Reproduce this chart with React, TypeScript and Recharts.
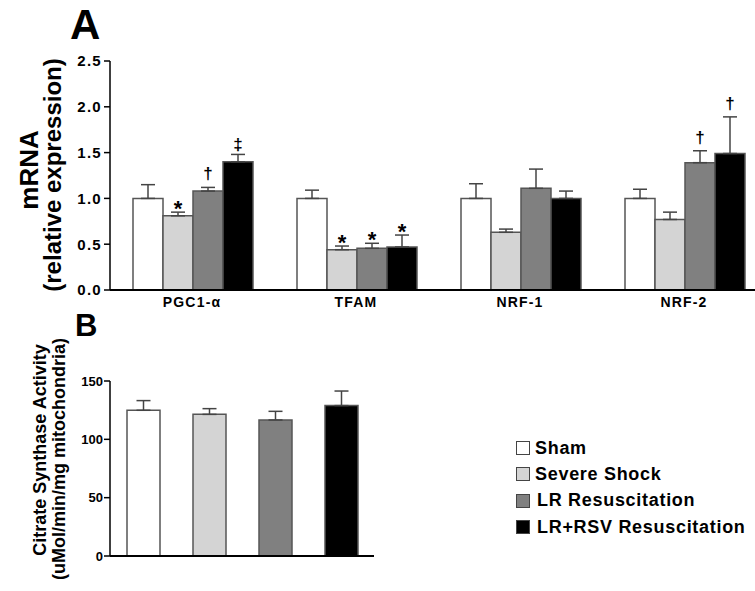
import React from "react";
import { BarChart, Bar, XAxis, YAxis, ErrorBar, LabelList, Cell } from "recharts";

const font = '"Liberation Sans", Arial, sans-serif';

const genes = ["PGC1-α", "TFAM", "NRF-1", "NRF-2"];
const groups = ["Sham", "Severe Shock", "LR Resuscitation", "LR+RSV Resuscitation"];
const keys = ["sham", "severe", "lr", "rsv"];
const fills = ["#ffffff", "#d4d4d4", "#808080", "#000000"];

// panel A, mRNA relative expression (mean, upper SEM)
const shamMean = [1.0, 1.0, 1.0, 1.0];
const shamErr = [0.15, 0.09, 0.16, 0.1];
const severeMean = [0.81, 0.44, 0.63, 0.77];
const severeErr = [0.04, 0.04, 0.035, 0.08];
const lrMean = [1.08, 0.455, 1.11, 1.39];
const lrErr = [0.04, 0.055, 0.21, 0.13];
const rsvMean = [1.4, 0.47, 1.0, 1.49];
const rsvErr = [0.08, 0.13, 0.08, 0.4];

const shamMarks = ["", "", "", ""];
const severeMarks = ["*", "*", "", ""];
const lrMarks = ["†", "*", "", "†"];
const rsvMarks = ["‡", "*", "", "†"];

const mrnaTicks = [0, 0.5, 1, 1.5, 2, 2.5];

// panel B, citrate synthase activity
const csMean = [124.9, 121.4, 116.6, 128.9];
const csErr = [8.3, 4.9, 7.4, 12.5];
const csTicks = [0, 50, 100, 150];

const means = [shamMean, severeMean, lrMean, rsvMean];
const errs = [shamErr, severeErr, lrErr, rsvErr];
const marks = [shamMarks, severeMarks, lrMarks, rsvMarks];

const mrnaData = genes.map((gene, i) => {
  const row: any = { gene };
  keys.forEach((k, s) => {
    row[k] = means[s][i];
    row[k + "Err"] = [0, errs[s][i]];
  });
  return row;
});

const csData = groups.map((name, i) => ({ name, value: csMean[i], err: [0, csErr[i]] }));

function markLabel(errList: number[], markList: string[]) {
  return (props: any) => {
    const { x, y, width, height, value, index } = props;
    const mark = markList[index];
    if (!mark) return null;
    const top = y - errList[index] * (height / value);
    const isStar = mark === "*";
    return (
      <text
        x={x + width / 2}
        y={isStar ? top + 3.5 : mark === "‡" ? top - 4 : top - 8}
        textAnchor="middle"
        fontFamily={font}
        fontWeight="bold"
        fontSize={isStar ? 22 : 17}
        fill="#000"
      >
        {mark}
      </text>
    );
  };
}

const tickA = { fontFamily: font, fontWeight: "bold", fontSize: 15, fill: "#000", letterSpacing: 1.3 };
const tickB = { fontFamily: font, fontWeight: "bold", fontSize: 13, fill: "#000" };

export default function App() {
  return (
    <div
      style={{
        position: "absolute",
        left: 0,
        top: 0,
        width: 755,
        height: 591,
        overflow: "hidden",
        background: "#fff",
        fontFamily: font,
      }}
    >
      <div style={{ position: "absolute", left: 0, top: 0 }}>
        <BarChart
          width={780}
          height={330}
          data={mrnaData}
          margin={{ top: 61, right: 14, bottom: 10, left: 0 }}
          barCategoryGap={23}
          barGap={0}
        >
          <XAxis
            dataKey="gene"
            tickLine={false}
            tickMargin={1}
            height={30}
            axisLine={{ stroke: "#000", strokeWidth: 2 }}
            tick={{ fontFamily: font, fontWeight: "bold", fontSize: 14, fill: "#000", letterSpacing: 1.2 }}
          />
          <YAxis
            width={110}
            domain={[0, 2.5]}
            ticks={mrnaTicks}
            tickFormatter={(v: number) => v.toFixed(1)}
            tickMargin={2}
            tick={tickA}
            axisLine={{ stroke: "#000", strokeWidth: 1.5 }}
            tickLine={{ stroke: "#000", strokeWidth: 1.5 }}
            label={{
              content: () => (
                <g fontFamily={font} fontWeight="bold" fill="#000">
                  <text x={38} y={170} transform="rotate(-90 38 170)" textAnchor="middle" fontSize={26}>
                    mRNA
                  </text>
                  <text x={61} y={175} transform="rotate(-90 61 175)" textAnchor="middle" fontSize={24}>
                    (relative expression)
                  </text>
                </g>
              ),
            }}
          />
          {keys.map((k, s) => (
            <Bar
              key={k}
              dataKey={k}
              name={groups[s]}
              fill={fills[s]}
              stroke="#555"
              strokeWidth={1.5}
              isAnimationActive={false}
            >
              <ErrorBar dataKey={k + "Err"} width={7} stroke="#444" strokeWidth={1.5} direction="y" />
              <LabelList dataKey={k} content={markLabel(errs[s], marks[s])} />
            </Bar>
          ))}
        </BarChart>
      </div>

      <div style={{ position: "absolute", left: 0, top: 300 }}>
        <BarChart
          width={380}
          height={291}
          data={csData}
          margin={{ top: 81, right: 6, bottom: 25, left: 0 }}
        >
          <XAxis
            dataKey="name"
            tick={false}
            tickLine={false}
            height={10}
            axisLine={{ stroke: "#000", strokeWidth: 2 }}
          />
          <YAxis
            width={110}
            domain={[0, 150]}
            ticks={csTicks}
            tickMargin={1}
            tick={tickB}
            axisLine={{ stroke: "#000", strokeWidth: 1.5 }}
            tickLine={{ stroke: "#000", strokeWidth: 1.5 }}
            label={{
              content: () => (
                <g fontFamily={font} fontWeight="bold" fill="#000">
                  <text x={46} y={150} transform="rotate(-90 46 150)" textAnchor="middle" fontSize={18}>
                    Citrate Synthase Activity
                  </text>
                  <text x={65} y={159} transform="rotate(-90 65 159)" textAnchor="middle" fontSize={18}>
                    (uMol/min/mg mitochondria)
                  </text>
                </g>
              ),
            }}
          />
          <Bar dataKey="value" barSize={33} stroke="#555" strokeWidth={1.5} isAnimationActive={false}>
            {csData.map((d, i) => (
              <Cell key={d.name} fill={fills[i]} />
            ))}
            <ErrorBar dataKey="err" width={7} stroke="#444" strokeWidth={1.5} direction="y" />
          </Bar>
        </BarChart>
      </div>

      <svg width={755} height={591} style={{ position: "absolute", left: 0, top: 0, pointerEvents: "none" }}>
        <text x={70} y={39} fontFamily={font} fontWeight="bold" fontSize={42} fill="#000">
          A
        </text>
        <text x={75} y={336} fontFamily={font} fontWeight="bold" fontSize={31} fill="#000">
          B
        </text>
      </svg>

      <div style={{ position: "absolute", left: 516, top: 435 }}>
        {groups.map((g, i) => (
          <div key={g} style={{ display: "flex", alignItems: "center", height: 26.3 }}>
            <div
              style={{
                width: 14,
                height: 14,
                boxSizing: "border-box",
                border: "1.5px solid #444",
                background: fills[i],
                marginRight: i < 2 ? 5 : 7,
              }}
            />
            <span style={{ fontWeight: "bold", fontSize: 18, letterSpacing: 0.7, color: "#000", whiteSpace: "nowrap" }}>
              {g}
            </span>
          </div>
        ))}
      </div>
    </div>
  );
}
